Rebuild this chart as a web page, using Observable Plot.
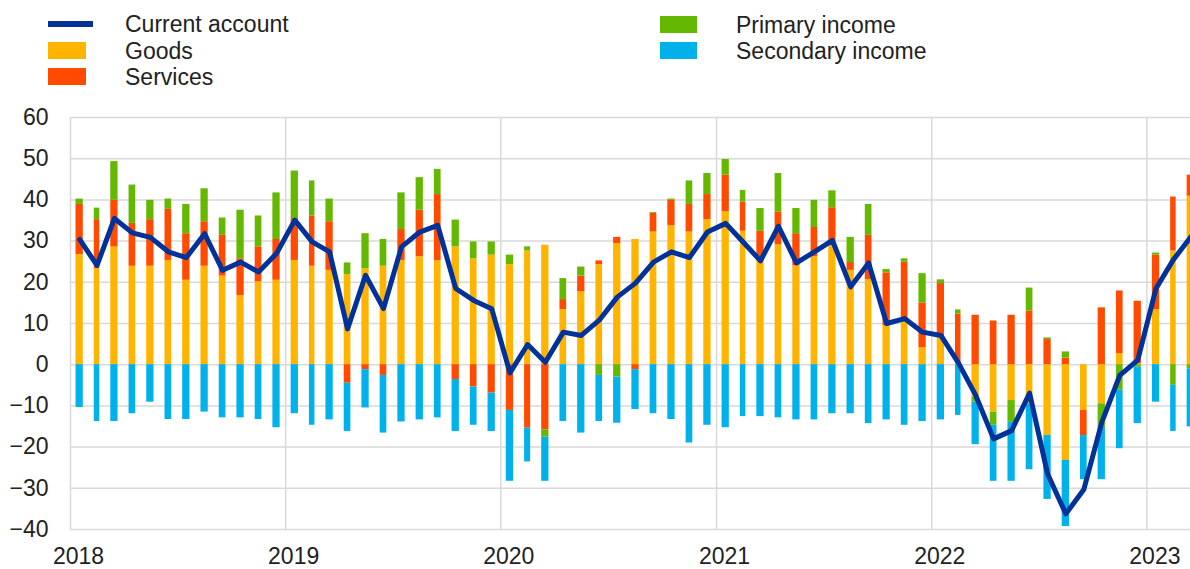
<!DOCTYPE html>
<html>
<head>
<meta charset="utf-8">
<script src="https://cdn.jsdelivr.net/npm/d3@7"></script>
<script src="https://cdn.jsdelivr.net/npm/@observablehq/plot@0.6"></script>
<style>
  html, body { margin: 0; padding: 0; background: #fff; }
  body { width: 1190px; height: 569px; overflow: hidden; font-family: "Liberation Sans", Arial, sans-serif; color: #222; }
  #legend { position: relative; height: 100px; width: 1190px; font-size: 23px; }
  .sw { position: absolute; }
  .lab { position: absolute; white-space: nowrap; line-height: 26px; }
</style>
</head>
<body>
<div id="legend"></div>
<div id="chart"></div>
<script>
// Monthly data, Jan 2018 – Mar 2023 (EUR billions)
const years = [2018, 2019, 2020, 2021, 2022, 2023];
const seriesNames = ["Goods", "Services", "Primary income", "Secondary income"];
const seriesColors = ["#FFB400", "#FF4B00", "#65B800", "#00B1EA"];
const lineName = "Current account";
const lineColor = "#003299";

const goods = [
  26.7, 23.3, 28.6, 23.9, 23.9, 25.3, 20.5, 23.9, 21.5, 16.8, 20.1, 20.5,
  25.3, 23.9, 22.9, 21.9, 23.3, 23.9, 25.3, 26.2, 25.2, 28.6, 25.7, 26.6,
  24.3, 27.6, 29.0, 13.4, 17.7, 24.3, 29.4, 30.4, 32.2, 33.7, 32.2, 35.2,
  37.1, 32.4, 26.2, 29.1, 24.0, 26.2, 30.2, 22.9, 20.6, 9.5, 10.8, 4.1,
  6.7, 0.3, -7.9, -11.5, -8.7, -9.5, -17.2, -23.2, -11.1, -9.5, 2.7, 0.2,
  13.4, 27.6, 40.9
];
const services = [
  12.2, 11.9, 11.3, 10.4, 11.3, 12.4, 11.3, 10.8, 9.9, 8.9, 8.5, 9.9,
  10.2, 12.2, 11.8, -4.5, -1.2, -2.6, 7.5, 11.3, 16.1, -3.6, -5.4, -6.9,
  -11.1, -15.4, -15.8, 2.4, 3.8, 0.9, 1.5, -1.2, 4.5, 6.2, 6.7, 6.1,
  8.9, 7.1, 6.2, 8.0, 7.8, 7.1, 7.9, 1.9, 10.8, 12.8, 14.1, 10.9,
  13.0, 12.0, 12.0, 10.6, 12.0, 13.0, 6.1, 1.6, -6.1, 13.8, 15.2, 15.2,
  13.2, 13.1, 5.1
];
const primaryIncome = [
  1.3, 2.8, 9.4, 9.3, 4.7, 2.5, 7.1, 8.0, 4.2, 11.8, 7.5, 11.3,
  11.5, 8.5, 5.5, 2.8, 8.5, 6.5, 8.9, 7.9, 6.1, 6.5, 4.1, 3.2,
  2.3, 1.0, -1.8, 5.1, 2.2, -2.6, -3.0, 0.0, 0.2, 0.3, 5.7, 5.1,
  3.8, 2.8, 5.5, 9.3, 6.1, 6.6, 4.1, 6.1, 7.5, 0.8, 0.8, 7.1,
  0.9, 1.0, -1.2, -3.2, -5.3, 5.6, 0.4, 1.5, 0.0, -6.0, -6.2, -0.6,
  0.5, -5.0, -1.0
];
const secondaryIncome = [
  -10.4, -13.8, -13.8, -11.9, -9.1, -13.3, -13.3, -11.5, -12.9, -12.9, -13.3, -15.3,
  -11.9, -14.7, -13.4, -11.7, -9.3, -14.0, -13.9, -13.4, -12.9, -12.6, -9.3, -9.3,
  -17.2, -8.2, -10.7, -13.8, -16.6, -11.2, -11.2, -9.7, -11.9, -13.3, -19.0, -14.7,
  -15.3, -12.6, -12.6, -12.9, -13.4, -13.4, -11.9, -11.9, -14.3, -13.4, -14.7, -13.8,
  -13.4, -12.3, -10.3, -13.6, -14.3, -16.0, -15.5, -16.1, -10.7, -12.4, -14.2, -13.7,
  -9.1, -11.2, -14.1
];
const currentAccount = [
  30.4, 24.1, 35.5, 32.0, 30.9, 27.4, 26.0, 31.8, 22.9, 24.9, 22.5, 27.0,
  35.1, 29.8, 27.4, 8.7, 21.7, 13.6, 28.6, 32.2, 33.8, 18.5, 15.6, 13.6,
  -2.0, 4.9, 0.6, 7.9, 7.1, 10.8, 16.4, 19.8, 24.9, 27.4, 26.0, 32.2,
  34.3, 29.8, 25.2, 33.6, 24.7, 27.4, 30.2, 18.9, 24.7, 10.0, 11.2, 7.9,
  7.1, 0.5, -7.4, -18.0, -16.0, -6.9, -26.5, -36.2, -30.3, -14.0, -2.6, 1.1,
  18.5, 25.5, 31.0
];
const yTicks = [-40, -30, -20, -10, 0, 10, 20, 30, 40, 50, 60];

// Build tables
const months = d3.utcMonths(new Date(Date.UTC(2018, 0, 1)), new Date(Date.UTC(2023, 3, 1)));
const seriesValues = [goods, services, primaryIncome, secondaryIncome];
const rows = seriesNames.flatMap((s, i) =>
  months.map((m, j) => ({series: s, x1: m, x2: d3.utcMonth.offset(m, 1), value: seriesValues[i][j]}))
);
const lineRows = months.map((m, j) => ({
  x: new Date((+m + +d3.utcMonth.offset(m, 1)) / 2),
  value: currentAccount[j]
}));
const yearDates = years.map(y => new Date(Date.UTC(y, 0, 1)));

// Legend (HTML, above the SVG)
const legend = document.getElementById("legend");
function addItem(textLeft, top, label, swatchCss) {
  const sw = document.createElement("div");
  sw.className = "sw";
  Object.assign(sw.style, swatchCss);
  legend.appendChild(sw);
  const t = document.createElement("div");
  t.className = "lab";
  t.textContent = label;
  t.style.left = textLeft + "px";
  t.style.top = (top - 13) + "px";
  legend.appendChild(t);
}
addItem(125, 24, lineName, {left: "48px", top: "21px", width: "45px", height: "6px", background: lineColor});
addItem(125, 51, seriesNames[0], {left: "48px", top: "42px", width: "38px", height: "17px", background: seriesColors[0]});
addItem(125, 77, seriesNames[1], {left: "48px", top: "68px", width: "38px", height: "17px", background: seriesColors[1]});
addItem(736, 25, seriesNames[2], {left: "660px", top: "16px", width: "37px", height: "17px", background: seriesColors[2]});
addItem(736, 51, seriesNames[3], {left: "660px", top: "42px", width: "37px", height: "17px", background: seriesColors[3]});

const grid = {stroke: "#d9d9d9", strokeOpacity: 1, strokeWidth: 1.5};

const chart = Plot.plot({
  width: 1190,
  height: 469,
  marginLeft: 70,
  marginRight: 0,
  marginTop: 17,
  marginBottom: 40,
  style: {fontFamily: "'Liberation Sans', Arial, sans-serif", fontSize: "23px", color: "#222", background: "#fff"},
  x: {type: "utc", domain: [new Date(Date.UTC(2018, 0, 1)), new Date(Date.UTC(2023, 2, 16))]},
  y: {domain: [-40, 60]},
  color: {domain: seriesNames, range: seriesColors},
  marks: [
    Plot.gridY(yTicks, {...grid}),
    Plot.gridX(yearDates, {...grid}),
    Plot.rectY(rows, {x1: "x1", x2: "x2", y: "value", fill: "series", insetLeft: 5.5, insetRight: 5.5}),
    Plot.lineY(lineRows, {x: "x", y: "value", stroke: lineColor, strokeWidth: 5, strokeLinejoin: "round", strokeLinecap: "round"}),
    Plot.axisX(yearDates, {tickFormat: d => String(d.getUTCFullYear()), tickSize: 0, tickPadding: 18, dx: 8, label: null, fill: "#222"}),
    Plot.axisY(yTicks, {tickSize: 0, tickPadding: 22, label: null, fill: "#222"})
  ]
});
document.getElementById("chart").appendChild(chart);
</script>
</body>
</html>
